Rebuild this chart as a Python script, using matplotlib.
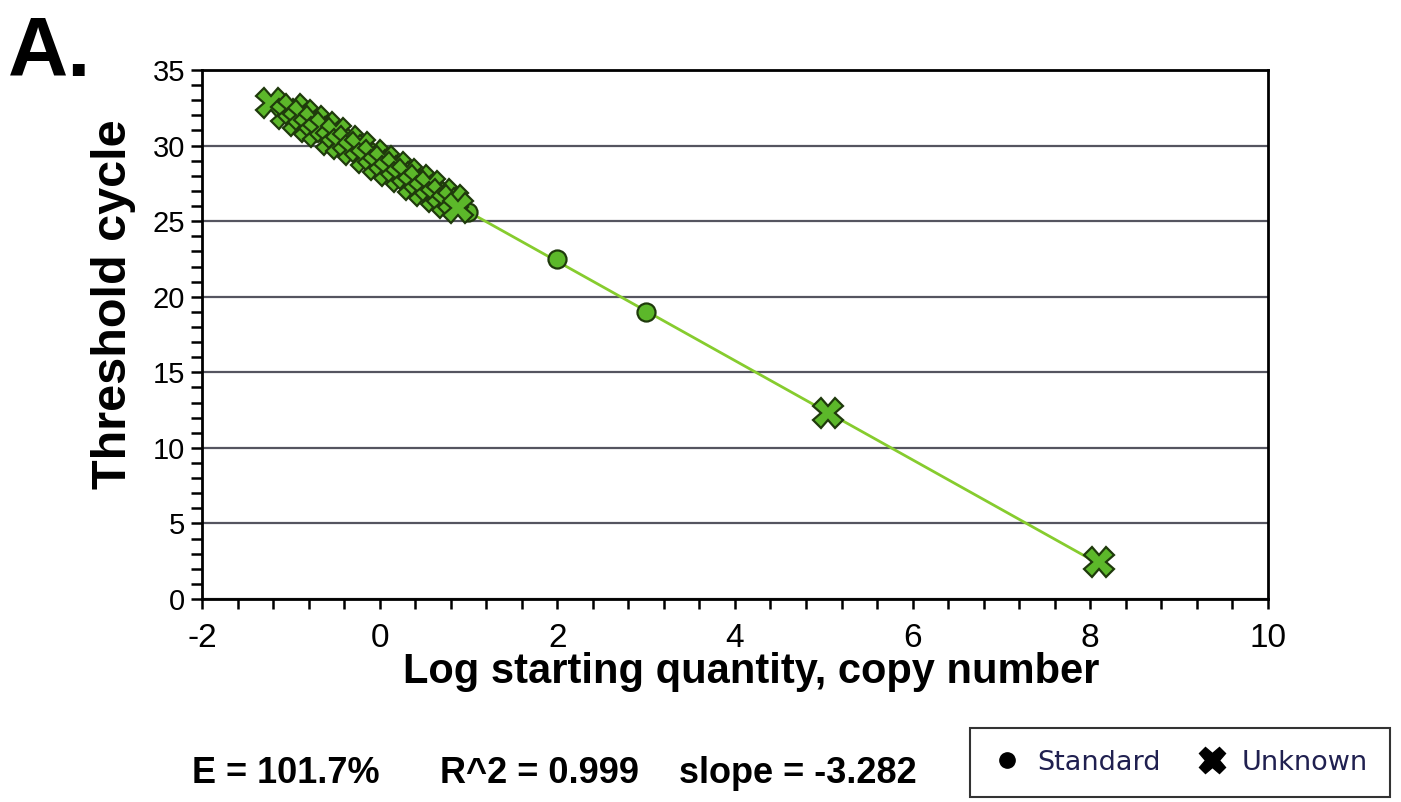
import numpy as np
import matplotlib.pyplot as plt
from matplotlib.ticker import MultipleLocator
from matplotlib.lines import Line2D

plt.rcParams['axes.unicode_minus'] = False
plt.rcParams['font.family'] = 'Liberation Sans'

# standard curve: log copy number vs Ct
std_logq = [-1.0, 0.0, 1.0, 2.0, 3.0]
std_ct = [32.2, 28.9, 25.6, 22.5, 19.0]

# unknown samples
unk_logq = [-1.22, -1.05, -0.98, -0.92, -0.86, -0.80, -0.74, -0.69, -0.62, -0.55,
            -0.49, -0.43, -0.36, -0.30, -0.22, -0.15, -0.08, -0.02, 0.05, 0.11,
            0.18, 0.24, 0.31, 0.37, 0.44, 0.50, 0.57, 0.63, 0.70, 0.76,
            0.83, 0.88, 5.05, 8.10]
unk_ct = [32.8, 32.1, 32.4, 31.6, 32.0, 31.2, 31.6, 30.9, 31.2, 30.4,
          30.8, 30.1, 30.3, 29.7, 29.9, 29.2, 29.4, 28.7, 29.0, 28.3,
          28.6, 27.9, 28.1, 27.4, 27.7, 27.0, 27.3, 26.6, 26.8, 26.2,
          26.4, 25.9, 12.3, 2.45]

# fit reported with the curve
efficiency = 101.7
r2 = 0.999
slope = -3.282
intercept = 28.9

green = '#5cb82a'
edge = '#1f3a0c'

fig = plt.figure(figsize=(14.01, 8.02), dpi=100)
ax = fig.add_axes([0.1442, 0.2531, 0.7608, 0.6596])

xs = np.array([min(unk_logq), max(unk_logq)])
ax.plot(xs, intercept + slope * xs, color='#86cc2e', lw=2.0, zorder=2)

ax.plot(std_logq, std_ct, 'o', ms=13, mfc=green, mec=edge, mew=1.6, zorder=3)
ax.plot(unk_logq, unk_ct, 'X', ms=21, mfc=green, mec=edge, mew=1.6, zorder=4)

ax.set_xlim(-2, 10)
ax.set_ylim(0, 35)
ax.xaxis.set_major_locator(MultipleLocator(2))
ax.xaxis.set_minor_locator(MultipleLocator(0.4))
ax.yaxis.set_major_locator(MultipleLocator(5))
ax.yaxis.set_minor_locator(MultipleLocator(1))

ax.grid(axis='y', which='major', color='#555560', lw=1.6)
ax.set_axisbelow(True)
for s in ax.spines.values():
    s.set_linewidth(2.0)
    s.set_color('black')

ax.tick_params(axis='both', which='both', direction='out', width=1.8, color='black')
ax.tick_params(axis='x', which='both', length=7, pad=10, labelsize=24)
ax.tick_params(axis='y', which='both', length=8, pad=4, labelsize=21)

ax.set_xlabel('Log starting quantity, copy number', fontsize=30, fontweight='bold')
ax.xaxis.set_label_coords(0.515, -0.1)
ax.set_ylabel('Threshold cycle', fontsize=35, fontweight='bold')
ax.yaxis.set_label_coords(-0.062, 0.558)

fig.text(0.006, 0.905, 'A.', fontsize=60, fontweight='bold')

fig.text(0.137, 0.024, f'E = {efficiency}%', fontsize=26, fontweight='bold')
fig.text(0.314, 0.024, f'R^2 = {r2}', fontsize=26, fontweight='bold')
fig.text(0.485, 0.024, f'slope = {slope}', fontsize=26, fontweight='bold')

handles = [Line2D([], [], ls='none', marker='o', ms=11, color='black', label='Standard'),
           Line2D([], [], ls='none', marker='X', ms=19, color='black', label='Unknown')]
leg = fig.legend(handles=handles, loc='lower right', bbox_to_anchor=(0.992, 0.006), ncol=2,
                 frameon=True, fancybox=False, edgecolor='black', borderaxespad=0,
                 prop={'family': 'DejaVu Sans', 'size': 19.5},
                 handletextpad=0.5, columnspacing=1.3, borderpad=0.8, handlelength=1.2)
leg.get_frame().set_linewidth(1.5)
for t in leg.get_texts():
    t.set_color('#202050')

fig.savefig('out.png', dpi=100)
